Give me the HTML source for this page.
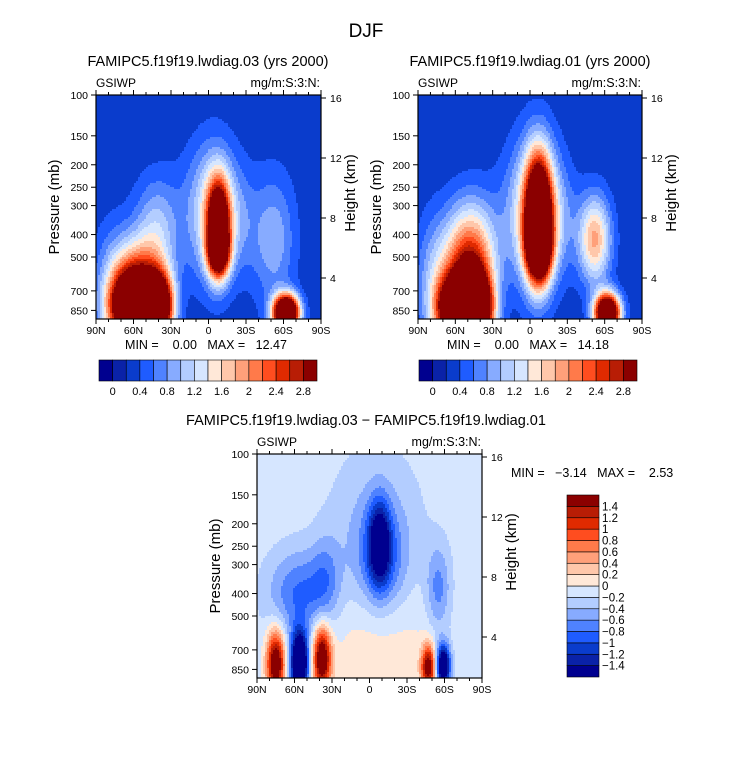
<!DOCTYPE html>
<html><head><meta charset="utf-8">
<style>
html,body{margin:0;padding:0;background:#fff;}
svg text{font-family:"Liberation Sans",sans-serif;fill:#000;white-space:pre;}
</style></head>
<body>
<svg id="fig" width="733" height="773" viewBox="0 0 733 773" xmlns="http://www.w3.org/2000/svg">
<text x="366" y="37" font-size="19" text-anchor="middle">DJF</text>
<text x="208" y="66" font-size="14.5" text-anchor="middle">FAMIPC5.f19f19.lwdiag.03 (yrs 2000)</text>
<text x="530" y="66" font-size="14.5" text-anchor="middle">FAMIPC5.f19f19.lwdiag.01 (yrs 2000)</text>
<text x="366" y="425" font-size="14.5" text-anchor="middle">FAMIPC5.f19f19.lwdiag.03 − FAMIPC5.f19f19.lwdiag.01</text>
</svg>
<script>
// ===== data: contour field components (Gaussian blobs in lat / log-pressure) =====
// panel A (lwdiag.03)
const aLat  = [0,   -5,  -8,  -8,  60,  40,  42,  -62, -52, 75,  -25, 55];
const aP    = [320, 320, 370, 480, 820, 820, 380, 870, 420, 700, 350, 580];
const aSLat = [18,  12,  6,   6,   12,  8,   12,  7,   12,  12,  10,  14];
const aSP   = [0.45,0.45,0.3, 0.15,0.22,0.22,0.35,0.12,0.45,0.45,0.35,0.25];
const aAmp  = [0.5, 0.8, 3.5, 2.0, 5.0, 4.0, 0.8, 5.0, 0.7, 0.6, 0.3, 1.4];
const aBase = 0.25;
// panel B (lwdiag.01)
const bLat  = [0,   -5,  -7,  -7,  58,  42,  48,  -62, -52, 78,  -25, 52];
const bP    = [320, 320, 340, 460, 840, 840, 450, 870, 420, 650, 350, 560];
const bSLat = [18,  13,  7,   7,   11,  9,   14,  7,   9,   10,  10,  14];
const bSP   = [0.45,0.5, 0.4, 0.2, 0.22,0.25,0.35,0.13,0.3, 0.45,0.35,0.25];
const bAmp  = [0.5, 1.1, 4.0, 2.2, 5.0, 4.0, 1.5, 4.5, 1.6, 0.6, 0.3, 1.0];
const bBase = 0.25;
// panel C (difference)
const cLat  = [-8,  -5,  55,  -5,  75,  56,  38,  -47, -59, -55, 35,  -10];
const cP    = [240, 250, 400, 520, 800, 800, 760, 830, 820, 380, 340, 300];
const cSLat = [6,   25,  18,  30,  5,   5,   5,   4,   4,   7,   8,   14];
const cSP   = [0.28,0.6, 0.3, 0.55,0.22,0.22,0.22,0.15,0.15,0.3, 0.3, 0.35];
const cAmp  = [-1.3,-0.45,-0.75,0.35,2.0, -2.4,2.0, 1.8, -2.0,-0.6,-0.4,-0.6];
const cBase = -0.1;
// colour levels
const seqLevels = [0,0.2,0.4,0.6,0.8,1,1.2,1.4,1.6,1.8,2,2.2,2.4,2.6,2.8];
const seqTickLabels = ["0","0.4","0.8","1.2","1.6","2","2.4","2.8"];
const divLevels = [-1.4,-1.2,-1,-0.8,-0.6,-0.4,-0.2,0,0.2,0.4,0.6,0.8,1,1.2,1.4];
const divTickLabels = ["−1.4","−1.2","−1","−0.8","−0.6","−0.4","−0.2","0","0.2","0.4","0.6","0.8","1","1.2","1.4"];
const pressTicks = [100,150,200,250,300,400,500,700,850];
const heightTicks = [4,8,12,16];
const latTicks = [90,60,30,0,-30,-60,-90];
const latTickLabels = ["90N","60N","30N","0","30S","60S","90S"];
const colors = ["#00008f","#0a22a8","#0a3ccc","#1f5cff","#4f82ff","#87abff","#b3cdff","#d6e6ff",
                "#ffe8d8","#ffc7aa","#ffa07a","#ff7a4a","#ff4d1f","#e02a00","#b81d05","#8b0000"];

const NS="http://www.w3.org/2000/svg";
const svg=document.getElementById('fig');
function mk(tag,attrs,parent){const e=document.createElementNS(NS,tag);for(const k in attrs)e.setAttribute(k,attrs[k]);(parent||svg).appendChild(e);return e;}
function txt(s,attrs,parent){const e=mk('text',attrs,parent);e.textContent=s;return e;}

function levelIndex(v,levels){let i=0;while(i<levels.length&&v>=levels[i])i++;return i;}

function panel(o){
  const x0=o.x0,x1=o.x1,y0=o.y0,y1=o.y1;
  const xs=lat=>x0+(90-lat)/180*(x1-x0);
  const b=(257-95)/Math.log(5);
  const ys=p=>y0+b*Math.log(p/100);
  const yInv=y=>100*Math.exp((y-y0)/b);
  const hs=h=>o.hy16+(16-h)*(o.hy4-o.hy16)/12;
  const g=mk('g',{},svg);
  
  
  const cg=mk('g',{'shape-rendering':'crispEdges'},g);
  
  
  const step=2;
  function flush(xs0,xe,y,idx){
    const r=mk('rect',{x:xs0,y:y,width:xe-xs0,height:Math.min(step,y1-y),fill:colors[idx]},cg);
    
    
  }
  for(let y=y0;y<y1;y+=step){
    const p=yInv(y+step/2);
    let runStart=x0,runIdx=-1;
    for(let x=x0;x<x1;x+=step){
      const lat=90-(Math.min(x+step/2,x1)-x0)/(x1-x0)*180;
      let v=o.base;
      for(let k=0;k<o.lat.length;k++){
        const dl=(lat-o.lat[k])/o.slat[k];
        const dp=Math.log(p/o.p[k])/o.sp[k];
        v+=o.amp[k]*Math.exp(-0.5*(dl*dl+dp*dp));
      }
      const idx=levelIndex(v,o.levels);
      if(idx!==runIdx){
        if(runIdx>=0) flush(runStart,x,y,runIdx);
        runStart=x;runIdx=idx;
      }
    }
    flush(runStart,x1,y,runIdx);
  }
  const fr=mk('rect',{x:x0,y:y0,width:x1-x0,height:y1-y0,fill:'none',stroke:'#000','stroke-width':1.2},g);
  
  
  pressTicks.forEach(pv=>{
    const y=ys(pv);
    mk('line',{x1:x0-5,x2:x0,y1:y,y2:y,stroke:'#000'},g);
    const t=txt(String(pv),{x:x0-8,y:y+4,'font-size':10.5,'text-anchor':'end'},g);
    
    
  });
  heightTicks.forEach(h=>{
    const y=hs(h);
    mk('line',{x1:x1,x2:x1+5,y1:y,y2:y,stroke:'#000'},g);
    const t=txt(String(h),{x:x1+9,y:y+4,'font-size':10.5},g);
    
    
  });
  latTicks.forEach((l,i)=>{
    const x=xs(l);
    mk('line',{x1:x,x2:x,y1:y1,y2:y1+5,stroke:'#000'},g);
    mk('line',{x1:x,x2:x,y1:y0,y2:y0-5,stroke:'#000'},g);
    const t=txt(latTickLabels[i],{x:x,y:y1+15,'font-size':10.5,'text-anchor':'middle'},g);
    
    
  });
  for(let l=80;l>-90;l-=10){if(l%30===0)continue;const x=xs(l);
    mk('line',{x1:x,x2:x,y1:y1,y2:y1+3,stroke:'#000'},g);mk('line',{x1:x,x2:x,y1:y0,y2:y0-3,stroke:'#000'},g);}
  let t=txt('Pressure (mb)',{x:0,y:0,'font-size':15,'text-anchor':'middle',transform:`translate(${x0-37},${(y0+y1)/2}) rotate(-90)`},g);
  
  t=txt('Height (km)',{x:0,y:0,'font-size':15,'text-anchor':'middle',transform:`translate(${x1+34},${(y0+y1)/2-14}) rotate(-90)`},g);
  
  t=txt('GSIWP',{x:x0,y:y0-8,'font-size':12},g);
  
  t=txt('mg/m:S:3:N:',{x:x1-1,y:y0-8,'font-size':12.5,'text-anchor':'end'},g);
  
}

function hbar(x0,x1,y0,y1,name){
  const g=mk('g',{},svg);
  
  
  const n=colors.length,w=(x1-x0)/n;
  colors.forEach((c,i)=>{
    const r=mk('rect',{x:x0+i*w,y:y0,width:w,height:y1-y0,fill:c,stroke:'#000','stroke-width':0.6},g);
    
    
  });
  seqLevels.forEach((lv,i)=>{
    if(i%2)return;
    const t=txt(seqTickLabels[i/2],{x:x0+(i+1)*w,y:y1+14,'font-size':11,'text-anchor':'middle'},g);
    
    
  });
}

panel({name:'left-panel',x0:96,x1:321,y0:95,y1:319,hy16:98,hy4:278,lat:aLat,p:aP,slat:aSLat,sp:aSP,amp:aAmp,base:aBase,levels:seqLevels});
panel({name:'right-panel',x0:418,x1:642,y0:95,y1:319,hy16:98,hy4:278,lat:bLat,p:bP,slat:bSLat,sp:bSP,amp:bAmp,base:bBase,levels:seqLevels});
panel({name:'diff-panel',x0:257,x1:482,y0:454,y1:678,hy16:457,hy4:637,lat:cLat,p:cP,slat:cSLat,sp:cSP,amp:cAmp,base:cBase,levels:divLevels});

let t=txt('MIN =    0.00   MAX =   12.47',{x:206,y:349,'font-size':12.5,'text-anchor':'middle'});

t=txt('MIN =    0.00   MAX =   14.18',{x:528,y:349,'font-size':12.5,'text-anchor':'middle'});

t=txt('MIN =   −3.14   MAX =    2.53',{x:511,y:477,'font-size':12.5});


hbar(99,317,360,381,'left-colorbar');
hbar(419,637,360,381,'right-colorbar');

(function(){
  const x0=567,x1=599,y0=495,y1=677,n=colors.length,h=(y1-y0)/n;
  const g=mk('g',{},svg);
  
  
  colors.forEach((c,i)=>{
    const r=mk('rect',{x:x0,y:y1-(i+1)*h,width:x1-x0,height:h,fill:c,stroke:'#000','stroke-width':0.6},g);
    
    
  });
  divLevels.forEach((lv,i)=>{
    const t=txt(divTickLabels[i],{x:x1+3,y:y1-(i+1)*h+4,'font-size':11.5},g);
    
    
  });
})();
</script>
</body></html>
